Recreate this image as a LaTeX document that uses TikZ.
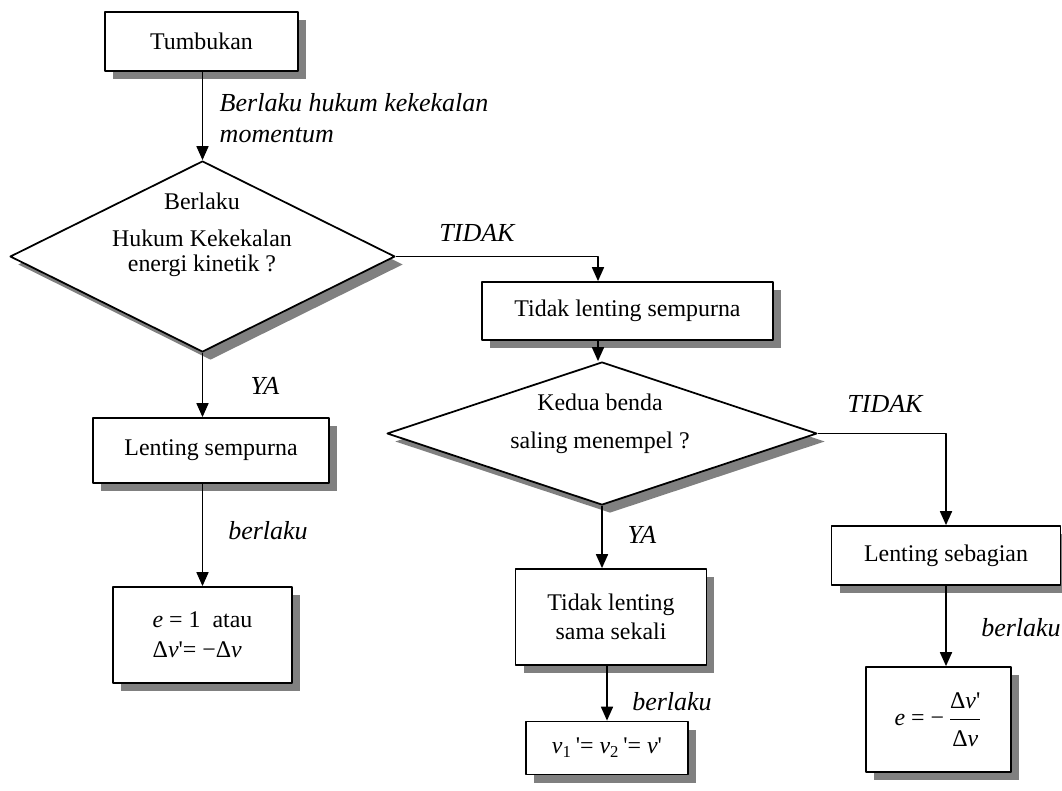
\documentclass[tikz,border=0pt]{standalone}
\usepackage{fontspec}
\setmainfont{Liberation Serif}
\usetikzlibrary{shapes.geometric,shadows,arrows.meta}

\tikzset{
	kotak/.style={draw, fill=white, inner sep=0pt, align=center,
		drop shadow={shadow xshift=0.16cm, shadow yshift=-0.16cm, fill=gray, opacity=1}},
	belah/.style={diamond, draw, fill=white, inner sep=0pt,
		drop shadow={shadow xshift=0.16cm, shadow yshift=-0.16cm, fill=gray, opacity=1}},
	ket/.style={font=\fontsize{14.8}{18}\selectfont\itshape}
}

\begin{document}
\begin{tikzpicture}[x=0.02cm, y=-0.02cm, line width=1pt, line join=round,
		font=\fontsize{13.6}{16.3}\selectfont, >={Triangle[length=0.28cm,width=0.24cm]}]
		\useasboundingbox (0,0) rectangle (1062,791);
		% kotak dan belah ketupat
		\node[kotak, minimum width=3.86cm, minimum height=1.18cm] (tumb) at (201.5,41.5) {Tumbukan};
		\node[belah, minimum width=7.7cm, minimum height=3.82cm] (d1) at (202.5,256.5) {};
		\node[align=center, font=\fontsize{13.6}{14.2}\selectfont] (d1txt) at (202,235)
			{Berlaku\\[0.24cm]Hukum Kekekalan\\energi kinetik ?};
		\node[kotak, minimum width=5.82cm, minimum height=1.16cm] (tls) at (627.5,311) {Tidak lenting sempurna};
		\node[belah, minimum width=8.6cm, minimum height=2.86cm] (d2) at (602,433.5) {};
		\node[align=center] (d2txt) at (600,424) {Kedua benda\\[0.19cm]saling menempel ?};
		\node[kotak, minimum width=4.72cm, minimum height=1.3cm] (ls) at (211,450.5) {Lenting sempurna};
		\node[kotak, minimum width=3.58cm, minimum height=1.92cm, align=left] (e1) at (202.5,635)
			{\textit{e} = 1 \ atau\\[1pt]Δ\textit{v}\textquotesingle= −Δ\textit{v}};
		\node[kotak, minimum width=3.82cm, minimum height=1.92cm] (tlss) at (611,617) {Tidak lenting\\sama sekali};
		\node[kotak, minimum width=3.24cm, minimum height=1.06cm] (vbox) at (607,748)
			{\textit{v}\textsubscript{1}\,\textquotesingle= \textit{v}\textsubscript{2}\,\textquotesingle= \textit{v}\textquotesingle};
		\node[kotak, minimum width=4.58cm, minimum height=1.18cm] (lsb) at (946,555.5) {Lenting sebagian};
		\node[kotak, minimum width=2.9cm, minimum height=2.1cm] (ebox) at (938.5,719.5)
			{\textit{e} = −\,$\displaystyle\frac{\mbox{Δ\textit{v}\textquotesingle}\rule[-5pt]{0pt}{0pt}}{\rule{0pt}{14pt}\mbox{Δ\textit{v}}}$};
		% panah
		\coordinate (c1) at (598,0);
		\draw[->] (tumb.south -| d1.north) -- (d1.north);
		\draw[->] (d1.east) -| (c1 |- tls.north);
		\draw[->] (c1 |- tls.south) -- (c1 |- d2.north);
		\draw[->] (d1.south) -- (d1.south |- ls.north);
		\draw[->] (ls.south -| e1.north) -- (e1.north);
		\draw[->] (d2.south) -- (d2.south |- tlss.north);
		\draw[->] (tlss.south -| vbox.north) -- (vbox.north);
		\draw[->] (d2.east) -| (lsb.north);
		\draw[->] (lsb.south) -- (lsb.south |- ebox.north);
		% keterangan
		\node[ket, anchor=west, align=left] (lbl1) at (213,118) {Berlaku hukum kekekalan\\momentum};
		\node[ket] (lbl2) at (477,233) {TIDAK};
		\node[ket] (lbl3) at (265,386) {YA};
		\node[ket] (lbl4) at (268,531) {berlaku};
		\node[ket] (lbl5) at (885,404) {TIDAK};
		\node[ket] (lbl6) at (642,535) {YA};
		\node[ket] (lbl7) at (672,702) {berlaku};
		\node[ket] (lbl8) at (1021,628) {berlaku};
	\end{tikzpicture}
\end{document}
